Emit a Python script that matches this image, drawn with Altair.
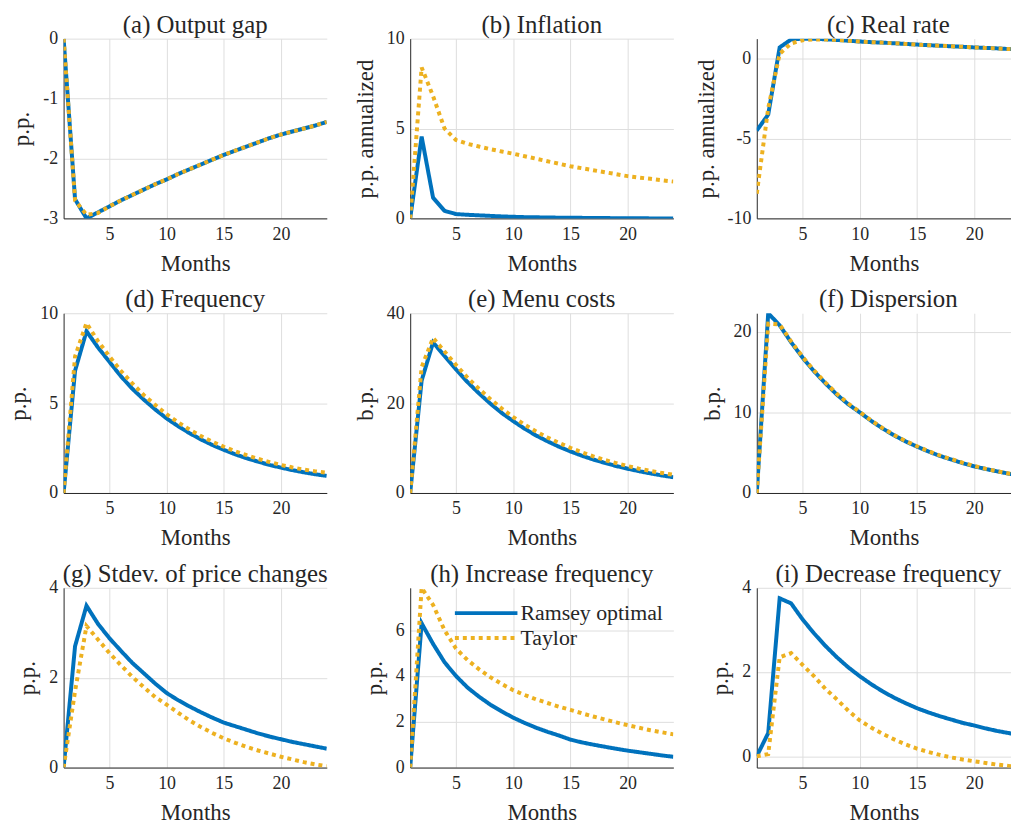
import altair as alt
import pandas as pd

months = list(range(1, 25))
series_names = ["Ramsey optimal", "Taylor"]
x_ticks = [5, 10, 15, 20]

# (a) Output gap
output_gap_ramsey = [0, -2.68, -3.0, -2.9, -2.8, -2.7, -2.61, -2.52, -2.43, -2.35, -2.26, -2.18,
                     -2.1, -2.02, -1.94, -1.87, -1.8, -1.73, -1.66, -1.6, -1.55, -1.5, -1.45, -1.39]
output_gap_taylor = [0, -2.7, -2.94, -2.91, -2.8, -2.7, -2.61, -2.52, -2.43, -2.35, -2.26, -2.18,
                     -2.1, -2.02, -1.94, -1.87, -1.8, -1.73, -1.66, -1.6, -1.55, -1.5, -1.45, -1.39]
# (b) Inflation
inflation_ramsey = [0, 4.55, 1.15, 0.42, 0.24, 0.2, 0.17, 0.14, 0.11, 0.09, 0.07, 0.06,
                    0.05, 0.04, 0.03, 0.03, 0.02, 0.02, 0.01, 0.01, 0.01, 0.0, 0.0, 0.0]
inflation_taylor = [0, 8.4, 6.8, 5.0, 4.36, 4.15, 4.0, 3.85, 3.72, 3.6, 3.46, 3.32,
                    3.18, 3.04, 2.9, 2.79, 2.68, 2.57, 2.46, 2.35, 2.27, 2.2, 2.12, 2.05]
# (c) Real rate
real_rate_ramsey = [-4.5, -3.5, 0.7, 1.2, 1.25, 1.24, 1.21, 1.17, 1.12, 1.07, 1.03, 1.0,
                    0.96, 0.92, 0.88, 0.84, 0.81, 0.77, 0.74, 0.7, 0.67, 0.64, 0.6, 0.57]
real_rate_taylor = [-8.45, -3.1, 0.3, 0.95, 1.15, 1.2, 1.2, 1.17, 1.12, 1.07, 1.03, 1.0,
                    0.96, 0.92, 0.88, 0.84, 0.81, 0.77, 0.74, 0.7, 0.67, 0.64, 0.6, 0.57]
# (d) Frequency
frequency_ramsey = [0, 6.8, 9.0, 8.1, 7.3, 6.5, 5.8, 5.2, 4.65, 4.15, 3.72, 3.33,
                    2.98, 2.67, 2.4, 2.15, 1.93, 1.74, 1.56, 1.41, 1.27, 1.15, 1.04, 0.95]
frequency_taylor = [0, 7.6, 9.45, 8.45, 7.6, 6.8, 6.1, 5.45, 4.9, 4.38, 3.93, 3.53,
                    3.17, 2.85, 2.57, 2.32, 2.1, 1.9, 1.72, 1.56, 1.42, 1.3, 1.2, 1.12]
# (e) Menu costs
menu_ramsey = [0, 25, 33.5, 30.5, 27.5, 24.7, 22.2, 19.9, 17.8, 16.0, 14.3, 12.8,
               11.5, 10.3, 9.25, 8.3, 7.45, 6.7, 6.0, 5.4, 4.85, 4.35, 3.9, 3.5]
menu_taylor = [0, 28, 34.5, 31.5, 28.5, 25.7, 23.2, 20.9, 18.8, 16.9, 15.2, 13.7,
               12.35, 11.15, 10.05, 9.05, 8.15, 7.35, 6.65, 6.0, 5.4, 4.9, 4.45, 4.05]
# (f) Dispersion
dispersion_ramsey = [0, 22.3, 20.8, 18.7, 16.8, 15.1, 13.6, 12.2, 11.0, 10.0, 8.95, 8.0,
                     7.15, 6.4, 5.75, 5.15, 4.6, 4.15, 3.7, 3.3, 2.98, 2.68, 2.4, 2.15]
dispersion_taylor = [0, 21.0, 20.9, 18.8, 16.9, 15.2, 13.7, 12.3, 11.1, 10.05, 9.0, 8.05,
                     7.2, 6.45, 5.8, 5.2, 4.65, 4.2, 3.75, 3.35, 3.0, 2.7, 2.42, 2.17]
# (g) Stdev. of price changes
stdev_ramsey = [0, 2.7, 3.6, 3.2, 2.88, 2.6, 2.33, 2.1, 1.87, 1.66, 1.5, 1.36,
                1.23, 1.11, 1.0, 0.92, 0.84, 0.76, 0.69, 0.63, 0.57, 0.52, 0.47, 0.42]
stdev_taylor = [0, 1.7, 3.15, 2.85, 2.55, 2.28, 2.02, 1.79, 1.57, 1.4, 1.22, 1.05,
                0.9, 0.77, 0.65, 0.55, 0.46, 0.38, 0.31, 0.24, 0.18, 0.12, 0.07, 0.03]
# (h) Increase frequency
increase_ramsey = [0, 6.3, 5.4, 4.6, 4.0, 3.5, 3.1, 2.75, 2.45, 2.18, 1.95, 1.74,
                   1.56, 1.4, 1.22, 1.1, 1.0, 0.91, 0.82, 0.74, 0.67, 0.6, 0.53, 0.47]
increase_taylor = [0, 7.85, 7.1, 6.0, 5.2, 4.7, 4.3, 3.95, 3.65, 3.38, 3.17, 2.98,
                   2.82, 2.66, 2.52, 2.37, 2.23, 2.1, 1.97, 1.85, 1.74, 1.63, 1.54, 1.45]
# (i) Decrease frequency
decrease_ramsey = [0, 0.55, 3.75, 3.63, 3.25, 2.92, 2.62, 2.35, 2.11, 1.9, 1.71, 1.54,
                   1.39, 1.26, 1.14, 1.04, 0.95, 0.87, 0.79, 0.73, 0.66, 0.6, 0.55, 0.5]
decrease_taylor = [0, 0.05, 2.35, 2.45, 2.17, 1.9, 1.6, 1.35, 1.08, 0.85, 0.68, 0.53,
                   0.4, 0.28, 0.18, 0.1, 0.03, -0.03, -0.08, -0.12, -0.16, -0.2, -0.23, -0.27]

BLUE = "#0072BD"
YELLOW = "#EDB120"
FONT = "Liberation Serif"
TEXT = "#262626"
W = 265
W_RIGHT = 256          # right column is cut by the page edge, as in the reference
H = 181
MINUS_FIX = "datum.value < 0 ? '-' + format(abs(datum.value), '') : datum.label"


def panel(title, ytitle, ramsey, taylor, ydomain, yticks, top_label, right=False, legend=False):
    df = pd.DataFrame({
        "month": months + months,
        "value": ramsey + taylor,
        "series": [series_names[0]] * len(months) + [series_names[1]] * len(months),
    })
    if legend:
        leg = alt.Legend(title=None, orient="none", legendX=64, legendY=13,
                         symbolType="M-3,0H3", symbolSize=441, symbolStrokeWidth=4,
                         labelFont=FONT, labelFontSize=22, labelColor=TEXT,
                         labelOffset=22, rowPadding=1, padding=0)
    else:
        leg = None
    width = W_RIGHT if right else W
    xmax = 1 + 23 * width / W
    return alt.Chart(df).mark_line(strokeWidth=4, clip=True).encode(
        x=alt.X("month:Q", scale=alt.Scale(domain=[1, xmax], nice=False, zero=False),
                axis=alt.Axis(values=x_ticks, title="Months")),
        y=alt.Y("value:Q", scale=alt.Scale(domain=ydomain, nice=False, zero=False),
                axis=alt.Axis(values=yticks, title=ytitle, labelExpr=MINUS_FIX)),
        color=alt.Color("series:N", scale=alt.Scale(domain=series_names, range=[BLUE, YELLOW]),
                        legend=leg),
        strokeDash=alt.StrokeDash("series:N",
                                  scale=alt.Scale(domain=series_names, range=[[1, 0], [4, 4]]),
                                  legend=leg),
    ).properties(width=width, height=H,
                 title=alt.TitleParams(title, offset=-8 if top_label else 1,
                                       dx=(W - W_RIGHT) / 2 if right else 0))


panels = [
    panel("(a) Output gap", "p.p.", output_gap_ramsey, output_gap_taylor, [-3, 0], [-3, -2, -1, 0], True),
    panel("(b) Inflation", "p.p. annualized", inflation_ramsey, inflation_taylor, [0, 10], [0, 5, 10], True),
    panel("(c) Real rate", "p.p. annualized", real_rate_ramsey, real_rate_taylor, [-10, 1.25], [-10, -5, 0], False,
          right=True),
    panel("(d) Frequency", "p.p.", frequency_ramsey, frequency_taylor, [0, 10], [0, 5, 10], True),
    panel("(e) Menu costs", "b.p.", menu_ramsey, menu_taylor, [0, 40], [0, 20, 40], True),
    panel("(f) Dispersion", "b.p.", dispersion_ramsey, dispersion_taylor, [0, 22.3], [0, 10, 20], False,
          right=True),
    panel("(g) Stdev. of price changes", "p.p.", stdev_ramsey, stdev_taylor, [0, 4], [0, 2, 4], True),
    panel("(h) Increase frequency", "p.p.", increase_ramsey, increase_taylor, [0, 7.85], [0, 2, 4, 6], False,
          legend=True),
    panel("(i) Decrease frequency", "p.p.", decrease_ramsey, decrease_taylor, [-0.27, 4], [0, 2, 4], True,
          right=True),
]

chart = alt.concat(*panels, columns=3, spacing={"row": 95.5, "column": 84}, bounds="flush").resolve_scale(
    x="independent", y="independent", color="independent", strokeDash="independent"
).resolve_legend(color="independent", strokeDash="independent").properties(
    padding={"left": 0, "top": 2, "right": 0, "bottom": 0}
).configure_view(stroke=None).configure_title(
    font=FONT, fontSize=25, fontWeight="normal", color=TEXT, anchor="middle"
).configure_axis(
    labelFont=FONT, labelFontSize=18, labelColor=TEXT,
    titleFont=FONT, titleFontSize=23, titleFontWeight="normal", titleColor=TEXT,
    domainColor=TEXT, domainWidth=1, gridColor="#dedede", gridWidth=1,
    ticks=False, labelFlush=False
).configure_axisX(labelPadding=7, titlePadding=9).configure_axisY(labelPadding=6, titlePadding=9)

chart.save("out.html", embed_options={"renderer": "svg", "actions": False})
